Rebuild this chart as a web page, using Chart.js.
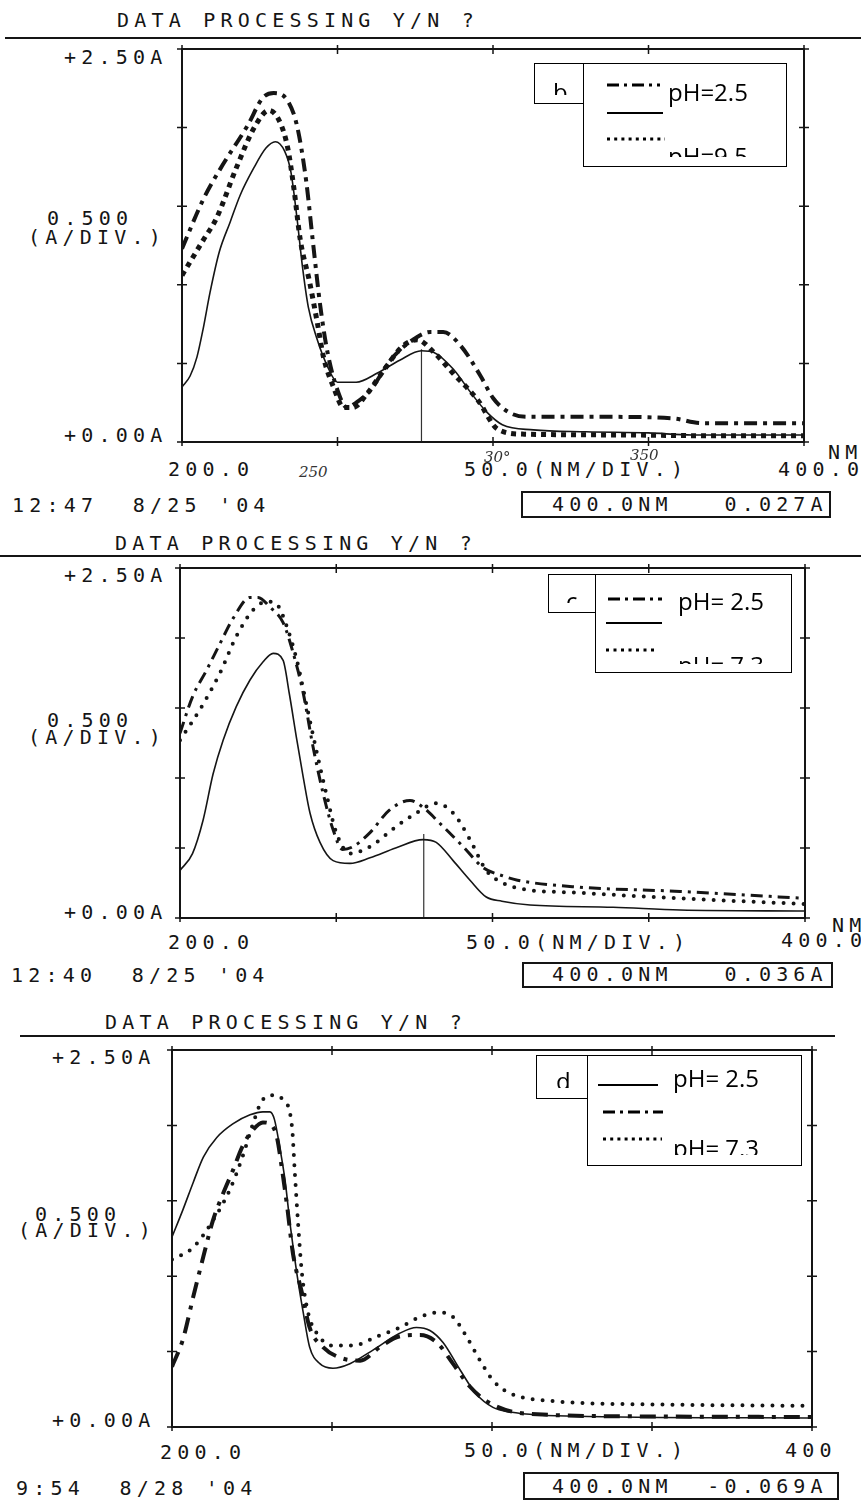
<!DOCTYPE html>
<html>
<head>
<meta charset="utf-8">
<script src="https://cdn.jsdelivr.net/npm/chart.js@4/dist/chart.umd.min.js"></script>
<style>
  body { margin: 0; background: #fff; }
  #page { position: relative; width: 861px; height: 1501px; overflow: hidden; background: #fff; }
  canvas { position: absolute; }
  .mono { position: absolute; font-family: "DejaVu Sans Mono", monospace; font-size: 20px; line-height: 20px;
          letter-spacing: 5.2px; color: #151515; white-space: pre; }
  .rule { position: absolute; height: 2px; background: #151515; }
  .box { position: absolute; border: 2px solid #151515; box-sizing: border-box; }
  .leg { position: absolute; border: 1.5px solid #000; box-sizing: border-box; background: #fff; }
  .lt { position: absolute; font-family: "Open Sans", sans-serif; font-size: 24px; line-height: 24px; color: #000; white-space: pre; }
  .hand { position: absolute; font-family: "DejaVu Serif", serif; font-style: italic; font-size: 15px; color: #333; }
  svg { position: absolute; left: 0; top: 0; }
</style>
</head>
<body>
<div id="page">
  <canvas id="chartB" width="642" height="413" style="left:172px;top:39px"></canvas>
  <canvas id="chartC" width="645" height="370" style="left:170px;top:558px"></canvas>
  <canvas id="chartD" width="660" height="397" style="left:162px;top:1040px"></canvas>
</div>
<script>
// axis ticks (nm and A)
const xTicks = [200, 250, 300, 350, 400];
const yTicks = [0, 0.5, 1.0, 1.5, 2.0, 2.5];

// panel b
const bSolidX = [200, 202.6, 204.8, 206.8, 209, 212, 215.5, 218.7, 223, 227, 230, 233, 235, 237, 238.7, 240.6, 243.5, 246.8, 250, 256, 263, 270, 277, 281, 287.4, 293, 298, 303, 313, 330, 350, 364, 380, 400];
const bSolidY = [0.35, 0.42, 0.54, 0.72, 0.95, 1.21, 1.40, 1.57, 1.74, 1.87, 1.91, 1.85, 1.72, 1.42, 1.12, 0.86, 0.65, 0.48, 0.38, 0.38, 0.44, 0.52, 0.58, 0.57, 0.46, 0.31, 0.19, 0.11, 0.077, 0.065, 0.058, 0.045, 0.045, 0.045];
const bDashX = [200, 207, 213, 221, 226, 229.5, 234, 237, 240, 242, 244.5, 246.8, 250, 253, 256, 260.6, 267, 273.5, 280, 284, 289.7, 296, 300, 305, 311, 335, 358, 367, 400];
const bDashY = [1.23, 1.55, 1.76, 2.01, 2.19, 2.22, 2.17, 2.01, 1.65, 1.29, 0.86, 0.57, 0.33, 0.22, 0.25, 0.33, 0.52, 0.64, 0.70, 0.70, 0.61, 0.42, 0.28, 0.19, 0.16, 0.16, 0.15, 0.12, 0.12];
const bDotX = [200, 207, 211, 217.6, 223.5, 228, 231.6, 234, 236, 238, 241, 243.5, 245.5, 248.7, 252, 255, 259.6, 265, 271, 275.6, 281, 287, 295, 301.6, 310, 340, 370, 400];
const bDotY = [1.06, 1.29, 1.42, 1.75, 2.01, 2.11, 2.03, 1.87, 1.61, 1.29, 1.02, 0.76, 0.54, 0.35, 0.22, 0.22, 0.31, 0.46, 0.61, 0.65, 0.57, 0.44, 0.27, 0.08, 0.05, 0.045, 0.04, 0.04];
const bCursor = [277, 0.59];

// panel c
const cSolidX = [200, 204, 207.4, 210.6, 213.8, 218, 222.4, 226.6, 229.8, 233, 235, 237.4, 239.4, 241.6, 244.8, 249, 254.4, 260.8, 269, 277.8, 282, 287.4, 292.8, 298, 303, 312, 338.6, 360, 400];
const cSolidY = [0.34, 0.46, 0.70, 1.03, 1.27, 1.51, 1.70, 1.83, 1.89, 1.84, 1.60, 1.27, 1.01, 0.75, 0.54, 0.41, 0.39, 0.43, 0.50, 0.56, 0.54, 0.41, 0.27, 0.15, 0.12, 0.093, 0.077, 0.057, 0.05];
const cDashX = [200, 204, 208.5, 212.8, 217, 222.4, 225, 228.8, 233, 236, 239.4, 242.6, 245.8, 249, 252, 255.4, 260.8, 267, 273.6, 277.8, 283, 290.6, 297, 303.4, 308, 328, 360, 400];
const cDashY = [1.32, 1.58, 1.77, 1.96, 2.14, 2.29, 2.29, 2.22, 2.11, 1.91, 1.61, 1.22, 0.89, 0.63, 0.49, 0.51, 0.61, 0.77, 0.84, 0.79, 0.68, 0.51, 0.36, 0.30, 0.27, 0.22, 0.19, 0.14];
const cDotX = [200, 206.4, 212.8, 218, 223.4, 227.8, 231, 234.2, 237.4, 240.6, 243.8, 247, 250, 254.4, 260.8, 269, 275.6, 282, 287.4, 292.8, 298, 303.4, 308.8, 328, 360, 400];
const cDotY = [1.27, 1.49, 1.75, 2.01, 2.20, 2.26, 2.24, 2.08, 1.84, 1.51, 1.18, 0.87, 0.61, 0.46, 0.51, 0.65, 0.75, 0.82, 0.75, 0.56, 0.34, 0.25, 0.21, 0.18, 0.14, 0.10];
const cCursor = [278, 0.6];

// panel d
const dSolidX = [200, 203.4, 206.6, 209.8, 214, 219, 224.4, 228.4, 230.6, 232, 233.8, 235.3, 237, 239, 241, 243, 246.2, 250.3, 255.6, 262.8, 271, 276.4, 280.6, 284.7, 290, 295, 300.3, 305.6, 330, 400];
const dSolidY = [1.26, 1.44, 1.62, 1.79, 1.92, 2.01, 2.07, 2.09, 2.09, 2.04, 1.84, 1.64, 1.33, 1.02, 0.76, 0.53, 0.42, 0.39, 0.42, 0.51, 0.62, 0.66, 0.64, 0.56, 0.38, 0.22, 0.13, 0.10, 0.07, 0.06];
const dDashX = [200, 203.4, 206.6, 209.8, 212.8, 216, 219, 222, 225.3, 228.4, 230.6, 232.8, 234.3, 236, 237.8, 240.6, 243, 247.2, 252.5, 258.8, 265, 271, 277.5, 282.8, 287.8, 293, 298.4, 310, 350, 400];
const dDashY = [0.40, 0.58, 0.86, 1.13, 1.37, 1.55, 1.70, 1.86, 1.97, 2.02, 2.01, 1.92, 1.72, 1.46, 1.15, 0.89, 0.66, 0.53, 0.46, 0.44, 0.53, 0.60, 0.61, 0.56, 0.42, 0.27, 0.17, 0.09, 0.07, 0.066];
const dDotX = [200, 206.6, 212.8, 218, 222, 225.3, 228, 231.6, 234.7, 237.5, 238.4, 239.4, 240.6, 242.5, 245.3, 250.3, 256.6, 264, 271.3, 277.5, 283.8, 287.8, 292, 296.3, 300.3, 305, 320, 350, 400];
const dDotY = [1.11, 1.19, 1.37, 1.57, 1.79, 2.01, 2.16, 2.20, 2.17, 1.99, 1.68, 1.35, 1.02, 0.76, 0.62, 0.54, 0.54, 0.60, 0.66, 0.73, 0.76, 0.73, 0.60, 0.44, 0.31, 0.23, 0.17, 0.15, 0.14];

const INK = "#151515";

// frame with "+" tick marks on all four sides
const framePlugin = {
  id: "frame",
  afterDraw(chart) {
    const { ctx, chartArea: a, scales } = chart;
    ctx.save();
    ctx.strokeStyle = INK;
    ctx.lineWidth = 2;
    ctx.strokeRect(a.left, a.top, a.right - a.left, a.bottom - a.top);
    ctx.lineWidth = 1.5;
    ctx.beginPath();
    xTicks.forEach((v) => {
      const px = scales.x.getPixelForValue(v);
      ctx.moveTo(px, a.top - 4); ctx.lineTo(px, a.top + 5);
      ctx.moveTo(px, a.bottom - 5); ctx.lineTo(px, a.bottom + 4);
    });
    yTicks.forEach((v) => {
      const py = scales.y.getPixelForValue(v);
      ctx.moveTo(a.left - 5, py); ctx.lineTo(a.left + 5, py);
      ctx.moveTo(a.right - 5, py); ctx.lineTo(a.right + 5, py);
    });
    ctx.stroke();
    ctx.restore();
  },
};

function toPoints(xs, ys) {
  return xs.map((v, i) => ({ x: v, y: ys[i] }));
}

function curve(xs, ys, style) {
  return {
    data: toPoints(xs, ys),
    borderColor: INK,
    borderWidth: style.w,
    borderDash: style.dash,
    borderCapStyle: style.cap,
    cubicInterpolationMode: "monotone",
    pointRadius: 0,
    fill: false,
  };
}

function cursor(c) {
  return {
    data: [{ x: c[0], y: 0 }, { x: c[0], y: c[1] }],
    borderColor: "#333",
    borderWidth: 1.2,
    tension: 0,
    pointRadius: 0,
    fill: false,
  };
}

function drawPanel(id, datasets) {
  new Chart(document.getElementById(id), {
    type: "line",
    data: { datasets },
    options: {
      responsive: false,
      animation: false,
      layout: { padding: 10 },
      scales: {
        x: { type: "linear", min: 200, max: 400, display: false },
        y: { min: 0, max: 2.5, display: false },
      },
      plugins: { legend: { display: false }, tooltip: { enabled: false } },
    },
    plugins: [framePlugin],
  });
}

const solid = { w: 1.6, dash: [], cap: "butt" };

drawPanel("chartB", [
  curve(bSolidX, bSolidY, solid),
  curve(bDashX, bDashY, { w: 4, dash: [13, 6, 4, 6], cap: "butt" }),
  curve(bDotX, bDotY, { w: 5, dash: [5, 5], cap: "butt" }),
  cursor(bCursor),
]);

drawPanel("chartC", [
  curve(cSolidX, cSolidY, solid),
  curve(cDashX, cDashY, { w: 3, dash: [12, 6, 3, 6], cap: "butt" }),
  curve(cDotX, cDotY, { w: 4, dash: [0, 10], cap: "round" }),
  cursor(cCursor),
]);

drawPanel("chartD", [
  curve(dSolidX, dSolidY, solid),
  curve(dDashX, dDashY, { w: 4, dash: [16, 8, 4, 8], cap: "butt" }),
  curve(dDotX, dDotY, { w: 4, dash: [0, 10], cap: "round" }),
]);

// ---- printer text, rules and boxes ----
const page = document.getElementById("page");

function el(cls, x, y, w, h, parent) {
  const d = document.createElement("div");
  d.className = cls;
  d.style.left = x + "px";
  d.style.top = y + "px";
  if (w) d.style.width = w + "px";
  if (h) d.style.height = h + "px";
  (parent || page).appendChild(d);
  return d;
}
function txt(s, x, y, cls, parent) {
  const d = el(cls || "mono", x, y, 0, 0, parent);
  d.textContent = s;
  return d;
}
function clip(x, y, w, h) {
  const d = el("", x, y, w, h);
  d.style.position = "absolute";
  d.style.overflow = "hidden";
  return d;
}

// panel b
el("rule", 5, 37, 856);
txt("DATA PROCESSING Y/N ?", 117, 10);
txt("+2.50A", 64, 47);
txt("0.500", 47, 208);
txt("(A/DIV.)", 28, 227);
txt("+0.00A", 64, 425);
txt("200.0", 168, 459);
txt("50.0(NM/DIV.)", 464, 459);
txt("NM", 828, 442);
txt("400.0", 778, 459);
txt("12:47  8/25 '04", 12, 495);
el("box", 521, 491, 310, 27);
txt("400.0NM   0.027A", 552, 494);
txt("250", 299, 463, "hand");
txt("30°", 484, 448, "hand");
txt("350", 630, 446, "hand");

// panel c
el("rule", 0, 555, 861);
txt("DATA PROCESSING Y/N ?", 115, 533);
txt("+2.50A", 64, 565);
txt("0.500", 47, 710);
txt("(A/DIV.)", 28, 727);
txt("+0.00A", 64, 902);
txt("200.0", 168, 932);
txt("50.0(NM/DIV.)", 466, 932);
txt("NM", 832, 915);
txt("400.0", 781, 930);
txt("12:40  8/25 '04", 11, 965);
el("box", 522, 962, 311, 26);
txt("400.0NM   0.036A", 552, 964);

// panel d
el("rule", 20, 1035, 815);
txt("DATA PROCESSING Y/N ?", 105, 1012);
txt("+2.50A", 52, 1047);
txt("0.500", 35, 1204);
txt("(A/DIV.)", 18, 1220);
txt("+0.00A", 52, 1410);
txt("200.0", 160, 1442);
txt("50.0(NM/DIV.)", 464, 1440);
txt("400", 785, 1440);
txt("9:54  8/28 '04", 16, 1478);
el("box", 523, 1472, 316, 28);
txt("400.0NM  -0.069A", 552, 1476);

// ---- pasted legends (clipped labels as in the scan) ----
function legend(tag, big, labels, tagClipY, textClipY) {
  el("leg", tag.x, tag.y, tag.w, tag.h);
  el("leg", big.x, big.y, big.w, big.h);
  const ct = clip(tag.x + 2, tag.y + 2, tag.w - 4, tagClipY - tag.y - 2);
  txt(tag.letter, tag.lx - tag.x - 2, tag.ly - tag.y - 2, "lt", ct);
  const cb = clip(big.x + 2, big.y + 2, big.w - 4, textClipY - big.y - 2);
  labels.forEach((l) => txt(l.s, l.x - big.x - 2, l.y - big.y - 2, "lt", cb));
}

legend({ x: 534, y: 63, w: 50, h: 41, letter: "b", lx: 553, ly: 80 },
       { x: 583, y: 63, w: 204, h: 104 },
       [{ s: "pH=2.5", x: 668, y: 80 }, { s: "pH=9.5", x: 668, y: 144 }], 95, 157);
legend({ x: 548, y: 574, w: 48, h: 39, letter: "c", lx: 566, ly: 589 },
       { x: 595, y: 574, w: 197, h: 99 },
       [{ s: "pH= 2.5", x: 678, y: 589 }, { s: "pH= 7.3", x: 678, y: 653 }], 603, 664);
legend({ x: 536, y: 1055, w: 52, h: 44, letter: "d", lx: 556, ly: 1069 },
       { x: 587, y: 1055, w: 215, h: 111 },
       [{ s: "pH= 2.5", x: 673, y: 1066 }, { s: "pH= 7.3", x: 673, y: 1136 }], 1088, 1155);

// legend line samples
const NS = "http://www.w3.org/2000/svg";
const svg = document.createElementNS(NS, "svg");
svg.setAttribute("width", 861);
svg.setAttribute("height", 1501);
page.appendChild(svg);
function sample(x1, x2, y, w, dash, cap) {
  const l = document.createElementNS(NS, "line");
  l.setAttribute("x1", x1); l.setAttribute("x2", x2);
  l.setAttribute("y1", y); l.setAttribute("y2", y);
  l.setAttribute("stroke", "#000");
  l.setAttribute("stroke-width", w);
  if (dash) l.setAttribute("stroke-dasharray", dash);
  l.setAttribute("stroke-linecap", cap || "butt");
  svg.appendChild(l);
}
sample(607, 660, 85, 3, "12 5 3 5");
sample(607, 663, 113, 2);
sample(607, 665, 139, 3, "3 4.2");
sample(608, 662, 599, 3, "12 5 3 5");
sample(606, 662, 623, 2);
sample(606, 658, 650, 3, "3 4.5");
sample(598, 658, 1085, 2);
sample(603, 663, 1112, 3, "12 5 3 5");
sample(603, 662, 1139, 3, "3 4.2");
</script>
</body>
</html>
